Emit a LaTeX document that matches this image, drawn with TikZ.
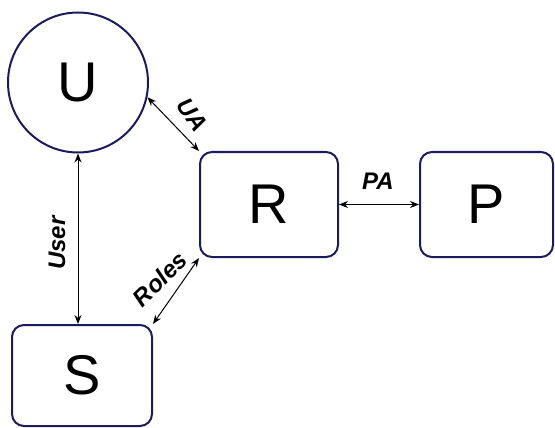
\documentclass[tikz,border=0pt]{standalone}
\usepackage{fontspec}
\setmainfont{Liberation Sans}
\usetikzlibrary{arrows.meta}
\definecolor{navy}{RGB}{28,28,92}
\begin{document}
\begin{tikzpicture}[x=1pt,y=-1pt,
  entity/.style={draw=navy,line width=2pt,fill=white,rounded corners=12pt,inner sep=0pt,
    font=\fontsize{56}{60}\selectfont},
  link/.style={{Stealth[length=9pt,width=7pt]}-{Stealth[length=9pt,width=7pt]},line width=1pt,black},
  lbl/.style={font=\fontsize{24}{26}\selectfont\bfseries\itshape,inner sep=0pt}]
\useasboundingbox (0,0) rectangle (555,428);
\node[draw=navy,line width=2pt,circle,minimum size=140pt,inner sep=0pt,
  font=\fontsize{56}{60}\selectfont] (U) at (78,82.5) {U};
\node[entity,minimum width=138pt,minimum height=105pt] (R) at (269,204.5) {R};
\node[entity,minimum width=133pt,minimum height=105pt] (P) at (486.5,204.5) {P};
\node[entity,minimum width=140pt,minimum height=101pt] (S) at (82,375.5) {S};
\draw[link] (U.south) -- (U.south |- S.north);
\draw[link] (U.-12) -- (R.north west);
\draw[link] (S.north east) -- (R.south west);
\draw[link] (R.east) -- (P.west);
\node[lbl] (lPA) at (378,181) {PA};
\node[lbl,rotate=90] (lUser) at (57,243) {User};
\node[lbl,rotate=-55] (lUA) at (192,115) {UA};
\node[lbl,rotate=45] (lRoles) at (160,279) {Roles};
\end{tikzpicture}
\end{document}
